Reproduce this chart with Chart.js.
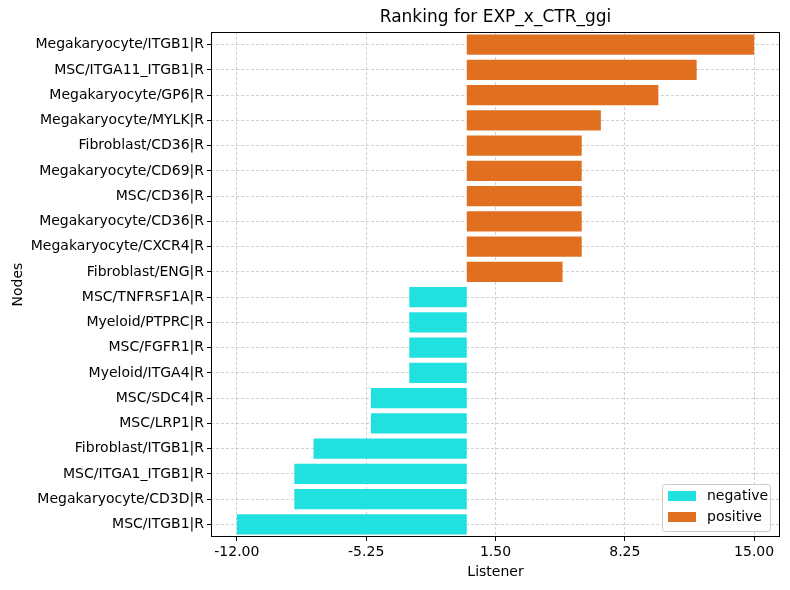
<!DOCTYPE html>
<html>
<head>
<meta charset="utf-8">
<script src="https://cdn.jsdelivr.net/npm/chart.js@4"></script>
<style>
  body { margin: 0; background: #fff; }
  canvas { display: block; }
</style>
</head>
<body>
<canvas id="chart" width="790" height="590"></canvas>
<script>
// data
const nodes = [
    "Megakaryocyte/ITGB1|R", "MSC/ITGA11_ITGB1|R", "Megakaryocyte/GP6|R", "Megakaryocyte/MYLK|R",
    "Fibroblast/CD36|R", "Megakaryocyte/CD69|R", "MSC/CD36|R", "Megakaryocyte/CD36|R",
    "Megakaryocyte/CXCR4|R", "Fibroblast/ENG|R", "MSC/TNFRSF1A|R", "Myeloid/PTPRC|R",
    "MSC/FGFR1|R", "Myeloid/ITGA4|R", "MSC/SDC4|R", "MSC/LRP1|R",
    "Fibroblast/ITGB1|R", "MSC/ITGA1_ITGB1|R", "Megakaryocyte/CD3D|R", "MSC/ITGB1|R"
]
const listener = [15, 12, 10, 7, 6, 6, 6, 6, 6, 5, -3, -3, -3, -3, -5, -5, -8, -9, -9, -12]
const xTicks = [-12, -5.25, 1.5, 8.25, 15]

const negativeColor = "#20e0e0"
const positiveColor = "#e07020"

const negative = listener.map(v => v < 0 ? v : null)
const positive = listener.map(v => v >= 0 ? v : null)

const FONT = "'DejaVu Sans', sans-serif"
Chart.defaults.font.family = FONT
Chart.defaults.color = "#000"

// FRAME, TITLES, LEGEND
const framePlugin = {
    id: "frame",
    afterDraw(chart) {
        const { ctx, chartArea: a } = chart
        ctx.save()
        ctx.strokeStyle = "#000"
        ctx.lineWidth = 1
        ctx.strokeRect(a.left + 0.5, a.top + 0.5, a.right - a.left - 1, a.bottom - a.top - 1)

        // title + axis titles
        ctx.fillStyle = "#000"
        ctx.textAlign = "center"
        ctx.textBaseline = "middle"
        ctx.font = "17px " + FONT
        ctx.fillText("Ranking for EXP_x_CTR_ggi", (a.left + a.right) / 2, 18)
        ctx.font = "14px " + FONT
        ctx.fillText("Listener", (a.left + a.right) / 2, 572)
        ctx.save()
        ctx.translate(18, (a.top + a.bottom) / 2)
        ctx.rotate(-Math.PI / 2)
        ctx.fillText("Nodes", 0, 0)
        ctx.restore()

        // legend box, lower right
        const w = 108, h = 47
        const x = a.right - w - 10, y = a.bottom - h - 6
        ctx.fillStyle = "rgba(255,255,255,0.8)"
        ctx.strokeStyle = "#cccccc"
        ctx.beginPath()
        ctx.roundRect(x + 0.5, y + 0.5, w, h, 3)
        ctx.fill()
        ctx.stroke()

        ctx.font = "14px " + FONT
        ctx.textAlign = "left"
        chart.data.datasets.forEach((ds, i) => {
            const cy = y + 12 + i * 21
            ctx.fillStyle = ds.backgroundColor
            ctx.fillRect(x + 6, cy - 5, 28, 10)
            ctx.fillStyle = "#000"
            ctx.fillText(ds.label, x + 45, cy)
        })
        ctx.restore()
    }
}

const gridOpts = {
    color: "#b0b0b0",
    lineWidth: 0.6,
    tickColor: "#000",
    tickBorderDash: [],
    tickLength: 4,
    tickWidth: 1
}

new Chart(document.getElementById("chart"), {
    type: "bar",
    data: {
        labels: nodes,
        datasets: [
            { label: "negative", data: negative, backgroundColor: negativeColor },
            { label: "positive", data: positive, backgroundColor: positiveColor }
        ]
    },
    options: {
        indexAxis: "y",
        responsive: false,
        animation: false,
        barPercentage: 0.8,
        categoryPercentage: 1,
        layout: { padding: { left: 0, right: 10, top: 32, bottom: 0 } },
        plugins: {
            legend: { display: false },
            tooltip: { enabled: false },
            title: { display: false }
        },
        scales: {
            x: {
                stacked: true,
                min: -13.35,
                max: 16.35,
                afterBuildTicks: axis => { axis.ticks = xTicks.map(v => ({ value: v })) },
                afterFit: axis => { axis.height = 53 },
                ticks: {
                    font: { size: 14 },
                    color: "#000",
                    maxRotation: 0,
                    padding: 3,
                    callback: v => Number(v).toFixed(2)
                },
                grid: gridOpts,
                border: { display: false, dash: [3, 2] }
            },
            y: {
                stacked: true,
                afterFit: axis => { axis.width = 211 },
                ticks: { font: { size: 14 }, color: "#000", padding: 3, autoSkip: false },
                grid: { ...gridOpts, offset: false },
                border: { display: false, dash: [3, 2] }
            }
        }
    },
    plugins: [framePlugin]
})
</script>
</body>
</html>
